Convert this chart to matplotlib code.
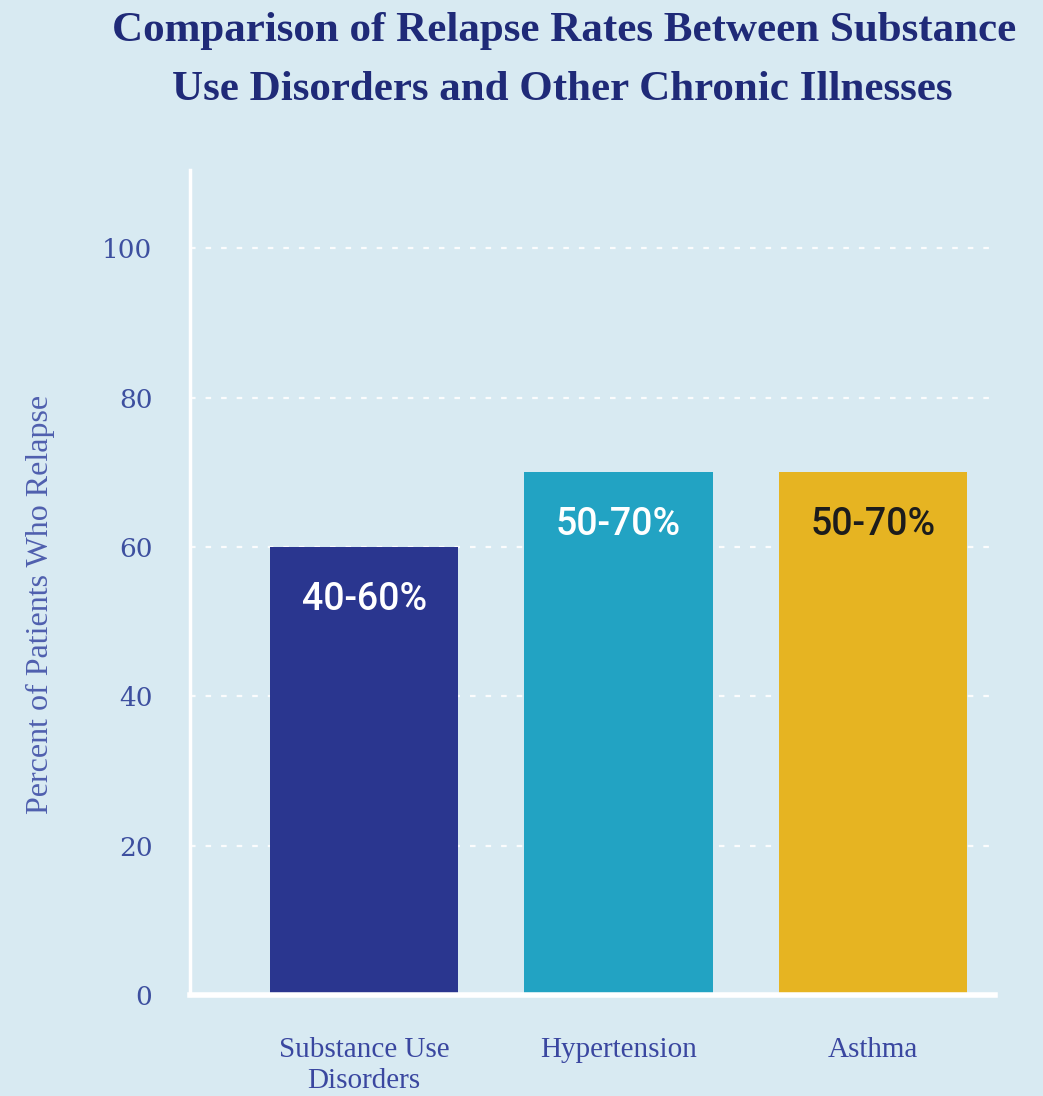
import matplotlib
matplotlib.use("Agg")
import matplotlib.pyplot as plt

categories = ["Substance Use\nDisorders", "Hypertension", "Asthma"]
values = [60, 70, 70]
labels = ["40-60%", "50-70%", "50-70%"]
yticks = [0, 20, 40, 60, 80, 100]

bar_colors = ["#2a368f", "#22a3c3", "#e6b422"]
label_colors = ["white", "white", "#1c1c1c"]
bg = "#d8eaf2"

fig = plt.figure(figsize=(10.43, 10.96), dpi=100, facecolor=bg)
ax = fig.add_axes([0.182, 0.092, 0.772, 0.753], facecolor=bg)

x = list(range(len(categories)))
ax.bar(x, values, width=0.74, color=bar_colors, zorder=3)

ax.set_ylim(0, 110.5)
ax.set_xlim(-0.685, 2.48)
ax.set_yticks(yticks)
ax.set_yticklabels([str(t) for t in yticks], family="DejaVu Serif",
                   fontsize=19, color="#3d4f9f")
ax.set_xticks(x)
ax.set_xticklabels(categories, family="Liberation Serif", fontsize=21,
                   color="#3a47a0", linespacing=1.25)
ax.tick_params(axis="y", length=0, pad=27)
ax.tick_params(axis="x", length=0, pad=30)

ax.grid(axis="y", color="white", linestyle=(0, (2.5, 4.5)), linewidth=1.6, alpha=0.9, zorder=1)
ax.grid(axis="x", visible=False)

for s in ["top", "right"]:
    ax.spines[s].set_visible(False)
ax.spines["left"].set_color("white")
ax.spines["left"].set_linewidth(2.5)
ax.spines["bottom"].set_color("white")
ax.spines["bottom"].set_linewidth(4)
ax.spines["left"].set_zorder(4)
ax.spines["bottom"].set_zorder(4)

for xi, v, lab, c in zip(x, values, labels, label_colors):
    ax.text(xi, v - 7, lab, ha="center", va="center", fontsize=27,
            family="Roboto", fontweight="medium", color=c, zorder=5)

ax.set_ylabel("Percent of Patients Who Relapse", family="Liberation Serif",
              fontsize=23, color="#4f5fae")
ax.yaxis.set_label_coords(-0.168, 0.473)

fig.text(0.541, 0.972, "Comparison of Relapse Rates Between Substance",
         ha="center", va="center", family="Liberation Serif", fontweight="bold",
         fontsize=31, color="#1f2a78")
fig.text(0.539, 0.918, "Use Disorders and Other Chronic Illnesses",
         ha="center", va="center", family="Liberation Serif", fontweight="bold",
         fontsize=31, color="#1f2a78")

fig.savefig("out.png", dpi=100, facecolor=bg)
